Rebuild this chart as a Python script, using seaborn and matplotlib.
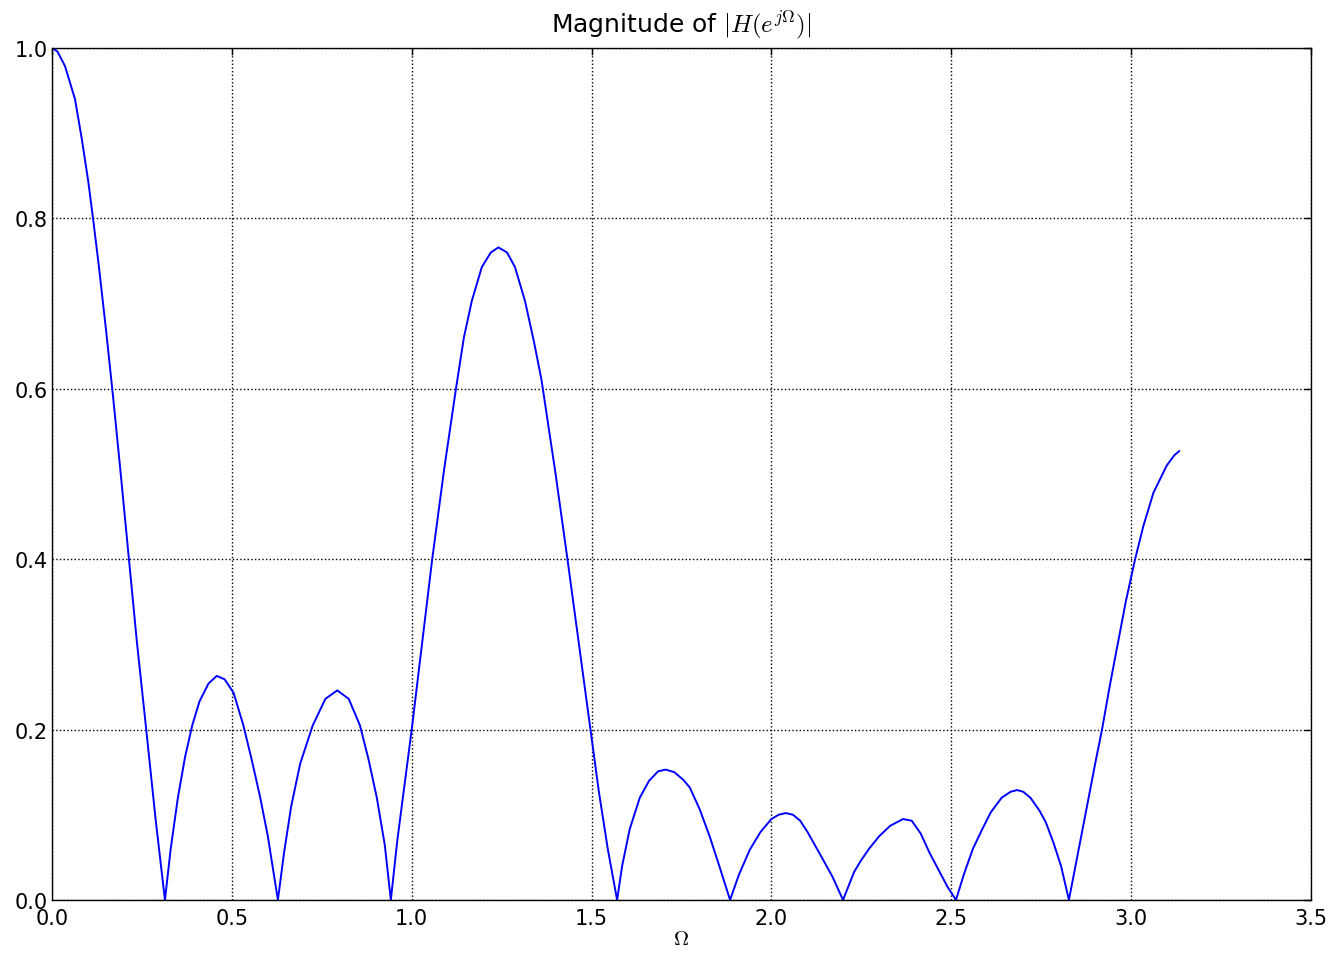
import matplotlib
matplotlib.use("Agg")
import matplotlib.pyplot as plt
import seaborn as sns
import numpy as np
import pandas as pd

# frequency points (rad/sample)
omega = [0.0, 0.015, 0.036, 0.064, 0.083, 0.101, 0.115, 0.13, 0.15, 0.17, 0.19, 0.214, 0.236, 0.262, 0.288, 0.314,
         0.33, 0.35, 0.37, 0.39, 0.41, 0.435, 0.458, 0.48, 0.505, 0.532, 0.555, 0.578, 0.60, 0.628,
         0.645, 0.665, 0.69, 0.725, 0.76, 0.793, 0.825, 0.856, 0.88, 0.903, 0.925, 0.942,
         0.96, 0.98, 1.0, 1.03, 1.057, 1.09, 1.123, 1.145, 1.167, 1.195, 1.22, 1.241, 1.265, 1.287, 1.315,
         1.34, 1.361, 1.40, 1.433, 1.465, 1.497, 1.52, 1.545, 1.571,
         1.585, 1.606, 1.634, 1.66, 1.685, 1.706, 1.73, 1.755, 1.773, 1.80, 1.828, 1.855, 1.885,
         1.91, 1.94, 1.97, 2.0, 2.02, 2.04, 2.06, 2.08, 2.10, 2.12, 2.14, 2.17, 2.199,
         2.23, 2.25, 2.273, 2.30, 2.33, 2.366, 2.39, 2.415, 2.44, 2.465, 2.49, 2.513,
         2.535, 2.56, 2.586, 2.61, 2.64, 2.665, 2.683, 2.70, 2.72, 2.745, 2.763, 2.785, 2.805, 2.827,
         2.85, 2.875, 2.90, 2.919, 2.94, 2.958, 2.985, 3.011, 3.034, 3.062, 3.099, 3.12, 3.134]

# |H(e^jW)|
magnitude = [1.0, 0.996, 0.979, 0.94, 0.893, 0.843, 0.797, 0.745, 0.67, 0.59, 0.505, 0.40, 0.303, 0.20, 0.095, 0.0,
             0.06, 0.12, 0.168, 0.205, 0.233, 0.254, 0.263, 0.259, 0.243, 0.205, 0.165, 0.122, 0.075, 0.0,
             0.055, 0.11, 0.16, 0.205, 0.236, 0.246, 0.236, 0.205, 0.165, 0.12, 0.065, 0.0,
             0.07, 0.135, 0.20, 0.305, 0.40, 0.505, 0.60, 0.66, 0.703, 0.743, 0.76, 0.766, 0.76, 0.743, 0.703,
             0.655, 0.61, 0.50, 0.40, 0.30, 0.20, 0.128, 0.06, 0.0,
             0.04, 0.083, 0.12, 0.14, 0.151, 0.153, 0.15, 0.141, 0.132, 0.107, 0.075, 0.04, 0.0,
             0.03, 0.059, 0.08, 0.095, 0.10, 0.102, 0.10, 0.093, 0.08, 0.065, 0.05, 0.027, 0.0,
             0.033, 0.047, 0.061, 0.075, 0.087, 0.095, 0.093, 0.078, 0.055, 0.035, 0.015, 0.0,
             0.03, 0.06, 0.083, 0.103, 0.12, 0.127, 0.129, 0.127, 0.12, 0.105, 0.091, 0.066, 0.04, 0.0,
             0.05, 0.105, 0.16, 0.20, 0.25, 0.29, 0.35, 0.40, 0.439, 0.478, 0.51, 0.522, 0.527]

x_ticks = [0.0, 0.5, 1.0, 1.5, 2.0, 2.5, 3.0, 3.5]
y_ticks = [0.0, 0.2, 0.4, 0.6, 0.8, 1.0]

sns.set_style("white")
plt.rcParams['mathtext.fontset'] = 'cm'
plt.rcParams['text.color'] = 'black'
plt.rcParams['axes.labelcolor'] = 'black'

df = pd.DataFrame({'omega': omega, 'mag': magnitude})

fig, ax = plt.subplots(figsize=(13.33, 9.54), dpi=100)
fig.subplots_adjust(left=0.039, right=0.9835, top=0.9486, bottom=0.0556)

sns.lineplot(data=df, x='omega', y='mag', color='#0000ff', linewidth=1.4,
             estimator=None, sort=False, ax=ax)

ax.set_xlim(0, 3.5)
ax.set_ylim(0, 1.0)
ax.set_xticks(x_ticks)
ax.set_yticks(y_ticks)
ax.set_xticklabels([f'{t:.1f}' for t in x_ticks], fontsize=15)
ax.set_yticklabels([f'{t:.1f}' for t in y_ticks], fontsize=15)
ax.grid(True, linestyle=':', color='black', linewidth=1.0)
ax.tick_params(direction='in', top=True, right=True, length=5, width=1, pad=3,
               colors='black')
ax.tick_params(axis='x', pad=6)
for s in ax.spines.values():
    s.set_color('black')
    s.set_linewidth(1.0)

ax.set_title(r'Magnitude of $|H(e^{j\Omega})|$', fontsize=18, pad=12, color='black')
ax.set_xlabel(r'$\Omega$', fontsize=15, labelpad=0)
ax.set_ylabel('')

plt.savefig('out.png', dpi=100)
